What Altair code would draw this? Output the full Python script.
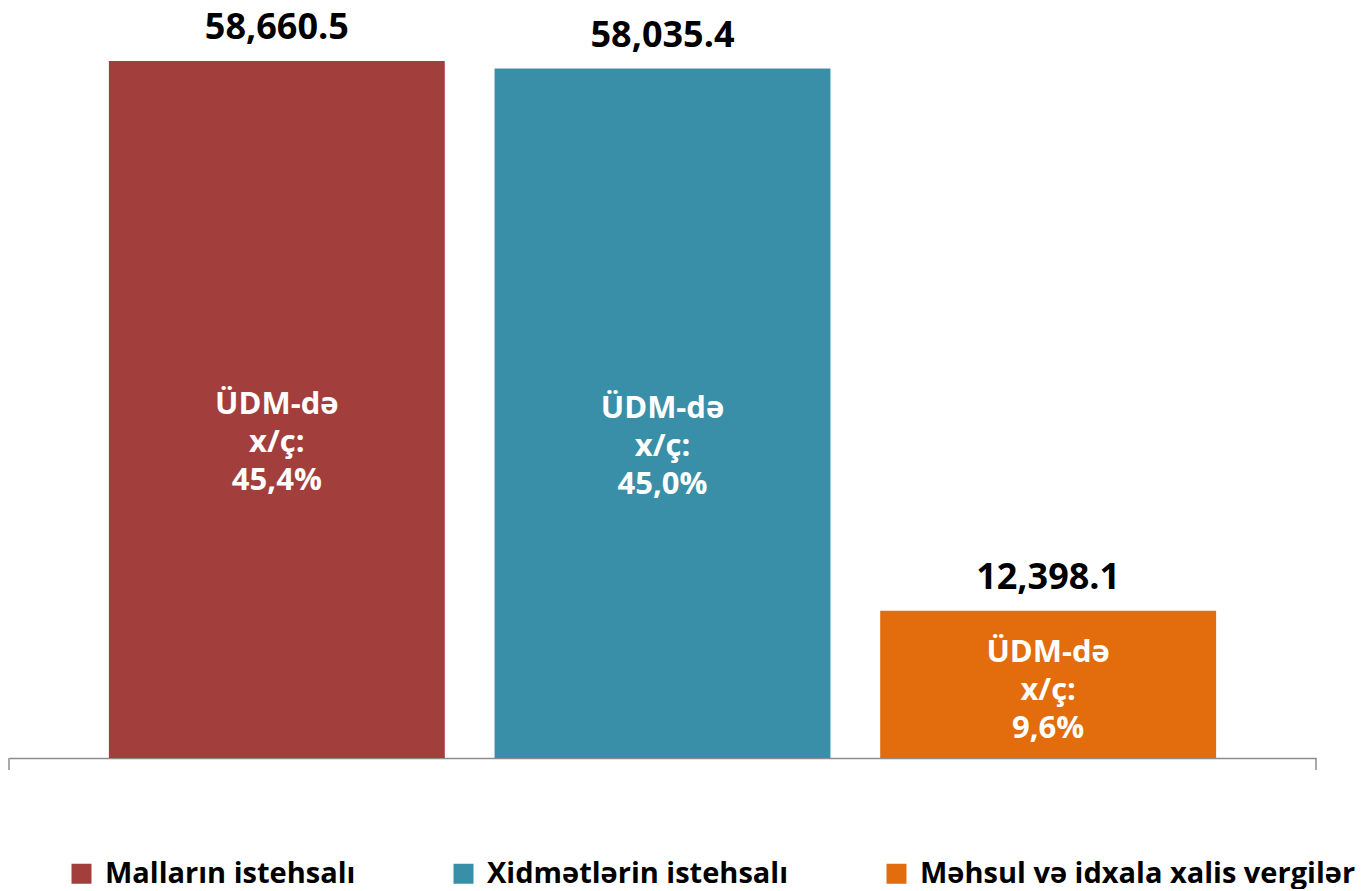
import altair as alt
import pandas as pd

categories = ["Malların istehsalı", "Xidmətlərin istehsalı", "Məhsul və idxala xalis vergilər"]
values = [58660.5, 58035.4, 12398.1]
shares = ["45,4%", "45,0%", "9,6%"]
colors = ["#A23E3C", "#3A8FA8", "#E36C0C"]

df = pd.DataFrame({
    "cat": categories,
    "value": values,
    "inner": ["ÜDM-də\nx/ç:\n" + s for s in shares],
})

FONT = "Open Sans"
W, H = 1307, 750

x = alt.X("cat:N", sort=categories,
          scale=alt.Scale(paddingInner=0.129, paddingOuter=0.259),
          axis=alt.Axis(title=None, labels=False, ticks=False, domainColor="#8c8c8c",
                        domainWidth=1.5))
y = alt.Y("value:Q", scale=alt.Scale(domain=[0, 63131], nice=False), axis=None)

bars = alt.Chart(df).mark_bar().encode(
    x=x, y=y,
    color=alt.Color("cat:N", sort=categories,
                    scale=alt.Scale(domain=categories, range=colors),
                    legend=alt.Legend(title=None, orient="none", direction="horizontal",
                                      legendX=58, legendY=851, padding=0,
                                      symbolType="square", symbolSize=400,
                                      symbolStrokeWidth=0, symbolOpacity=1,
                                      labelFont=FONT, labelFontSize=29, labelFontWeight="bold",
                                      labelColor="#000000", labelOffset=9,
                                      columnPadding=93, labelLimit=700)),
)

top = alt.Chart(df).mark_text(font=FONT, fontSize=36, fontWeight="bold", color="#000000",
                              baseline="alphabetic", dy=-22).encode(
    x=alt.X("cat:N", sort=categories), y="value:Q",
    text=alt.Text("value:Q", format=",.1f"),
)

inner = alt.Chart(df).transform_calculate(ypos="datum.value*0.45").mark_text(
    font=FONT, fontSize=31, fontWeight="bold", color="#ffffff",
    baseline="middle", lineBreak="\n", lineHeight=38, dy=-39).encode(
    x=alt.X("cat:N", sort=categories), y="ypos:Q", text="inner:N",
)

one = alt.Data(values=[{"a": 1}])
tick_l = alt.Chart(one).mark_rule(color="#8c8c8c", strokeWidth=1.5).encode(
    x=alt.value(0), y=alt.value(H), y2=alt.value(H + 12))
tick_r = alt.Chart(one).mark_rule(color="#8c8c8c", strokeWidth=1.5).encode(
    x=alt.value(W), y=alt.value(H), y2=alt.value(H + 12))

chart = alt.layer(bars, top, inner, tick_l, tick_r).properties(
    width=W, height=H, padding=0
).configure_view(stroke=None).configure_axis(grid=False)

chart.save("out.html", embed_options={"renderer": "svg", "actions": False})
